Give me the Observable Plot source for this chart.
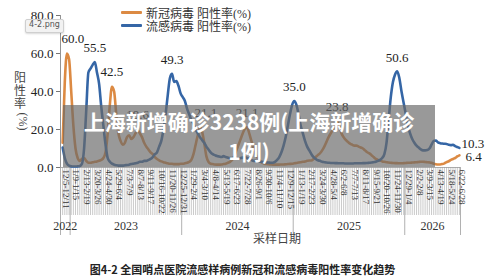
<!DOCTYPE html>
<html>
<head>
<meta charset="utf-8">
<script src="https://cdn.jsdelivr.net/npm/d3@7"></script>
<script src="https://cdn.jsdelivr.net/npm/@observablehq/plot@0.6"></script>
<style>
  html, body { margin: 0; padding: 0; background: #fff; }
  #wrap { position: relative; width: 500px; height: 277px; overflow: hidden; background: #fff; }
  #chart { position: absolute; left: 0; top: 0; }
  .legend { position: absolute; left: 121px; font: 12px "Liberation Serif", "Noto Sans CJK SC", serif; color: #333; }
  .legend .row { height: 13px; display: flex; align-items: center; }
  .legend .sw { width: 21px; height: 3px; margin-right: 4px; border-radius: 1px; }
  #ytitle { position: absolute; left: 13px; top: 70px; width: 14px; font: 12px "Noto Sans CJK SC", serif; color: #444; text-align: center; line-height: 13px; }
  #ytitle .rot { display: inline-block; transform: rotate(90deg); font-family: "Liberation Serif", serif; margin-top: 6px; }
  #xtitle { position: absolute; left: 253px; top: 229px; font: 12px "Noto Sans CJK SC", serif; color: #444; }
  #caption { position: absolute; left: 0; width: 485px; top: 261px; text-align: center; font: bold 11px "Noto Sans CJK SC", serif; color: #222; }
  #tip { position: absolute; left: 25px; top: 19px; width: 37px; height: 12px; line-height: 12px; background: #f2f2f2; border: 1px solid #cfcfcf; border-radius: 2px; font: 8px "DejaVu Sans", sans-serif; color: #555; text-align: center; box-shadow: 0 1px 2px rgba(0,0,0,0.15); }
  #overlay { position: absolute; left: 63px; top: 105px; width: 372px; height: 62px; background: rgba(105,105,105,0.68); color: #fff; font: bold 21px "Noto Sans CJK SC", sans-serif; text-align: center; line-height: 30px; padding-top: 1px; box-sizing: border-box; }
</style>
</head>
<body>
<div id="wrap">
  <div id="chart"></div>
  <div class="legend" style="top:6px">
    <div class="row"><span class="sw" style="background:#dc8a43"></span>新冠病毒 阳性率(%)</div>
    <div class="row"><span class="sw" style="background:#3566a6"></span>流感病毒 阳性率(%)</div>
  </div>
  <div id="ytitle">阳<br>性<br>率<br><span class="rot">(%)</span></div>
  <div id="xtitle">采样日期</div>
  <div id="caption">图4-2 全国哨点医院流感样病例新冠和流感病毒阳性率变化趋势</div>
  <div id="tip">4-2.png</div>
  <div id="overlay">上海新增确诊3238例(上海新增确诊<br>1例)</div>
</div>
<script>
// Weekly positivity rates (%)
const covid = [
  13, 45, 60, 57, 40, 22, 10, 5, 3.5, 4.5,
  5, 3.5, 2.5, 2.5, 2.8, 3, 3.2, 3.5, 4, 5,
  8, 18, 33, 42.5, 40, 28, 18, 14, 12, 13,
  16, 17, 15, 16, 18, 19.6, 18, 16, 13, 11,
  9.5, 8, 7, 5.5, 4.5, 3.8, 3.2, 2.8, 2.5, 2.2,
  2, 2, 1.8, 1.8, 1.8, 2, 2, 2.2, 2.5, 3,
  4, 7, 12, 17, 21.1, 19, 13, 6, 3, 2,
  1.8, 1.6, 1.5, 1.5, 1.6, 1.8, 2, 2.5, 3, 4,
  6, 9, 12, 15, 18, 20.5, 21.1, 18, 14, 10,
  7, 5, 3.5, 2.5, 2, 1.8, 1.7, 1.6, 1.5, 1.5,
  1.5, 1.5, 1.6, 1.6, 1.7, 1.8, 1.9, 2, 2.2, 2.4,
  2.6, 2.8, 3, 3.2, 3.5, 3.7, 3.7, 4.5, 5.5, 6.5,
  7.5, 9, 11, 13.5, 16, 18, 20, 22, 23.8, 22,
  18, 16, 14.5, 13.5, 12.6, 12, 11.5, 11.5, 11, 10.5,
  10, 9, 8, 7.4, 6.5, 5.5, 4.5, 4, 3.7, 3.2,
  3, 2.8, 2.6, 2.5, 2.4, 2.3, 2.3, 2.2, 2.2, 2.3,
  2.4, 2.5, 2.5, 2.6, 2.7, 2.8, 2.9, 3, 3, 2.9,
  2.8, 2.7, 2.5, 2, 1.7, 1.6, 1.6, 1.8, 2.2, 2.8,
  3.3, 4, 4.5, 5, 5.8, 6.4
];
const flu = [
  10.5, 5, 2, 1, 0.6, 0.5, 0.5, 0.6, 0.8, 2,
  10, 30, 50, 52, 54, 55.5, 50, 44, 32, 22,
  12, 5, 3, 2, 1.5, 1.2, 1, 1, 1, 1.2,
  1.3, 1.5, 1.8, 2, 2.2, 2.5, 3, 3, 3.5, 3.5,
  4, 4.5, 5.5, 7, 8, 11, 14, 20, 28, 38,
  47, 49.3, 45, 45.5, 43, 39, 37, 35, 31, 28,
  25, 23, 20, 18, 16, 14.5, 13, 11, 9.5, 8,
  7, 6.5, 6, 5.8, 5.5, 6, 5.5, 5.2, 5, 5,
  5.2, 5, 4.8, 5, 5.2, 5.5, 5, 4.5, 4, 3.5,
  3.5, 3.2, 3, 3, 2.8, 2.7, 2.6, 2.5, 2.5, 3,
  4, 5.5, 8, 11.5, 16, 22, 28, 33, 35, 33,
  28, 22, 18, 14, 11, 9, 7, 5.5, 4.5, 3.8,
  3.5, 3, 2.8, 2.6, 2.5, 2.4, 2.4, 2.3, 2.3, 2.2,
  2.2, 2.2, 2.1, 2.1, 2.1, 2.1, 2.2, 2.2, 2.2, 2.2,
  2.3, 2.3, 2.4, 2.5, 2.6, 2.8, 3, 3.5, 4, 5,
  7, 13, 25, 37, 45, 49, 50.6, 47, 40, 34,
  28, 22, 18, 15, 13, 11.5, 10.5, 9.5, 9, 9,
  9.2, 10, 12, 14, 14.2, 13.2, 12.8, 12.6, 12.5, 12.4,
  12, 11.8, 12, 11.2, 10.8, 10.3
];
// Tick labels, one every 5 weeks
const weekLabels = ["12/5-12/11","1/9-1/15","2/13-2/19","3/20-3/26","4/24-4/30","5/29-6/4","7/3-7/9","8/7-8/13","9/11-9/17","10/16-10/22","11/20-11/26","12/25-12/31","1/29-2/4","3/4-3/10","4/8-4/14","5/13-5/19","6/17-6/23","7/22-7/28","8/26-9/1","9/30-10/6","11/4-11/10","12/9-12/15","1/13-1/19","2/17-2/23","3/24-3/30","4/28-5/4","6/2-6/8","7/7-7/13","8/11-8/17","9/15-9/21","10/20-10/26","11/24-11/30","12/29-1/4","2/2-2/8","3/9-3/15","4/13-4/19","5/18-5/24","6/22-6/28"];
const years = ["2022", "2023", "2024", "2025", "2026"];
const yearBounds = [-1, 3.5, 55.5, 107.5, 159.5, 185.5];
const yTicks = [0, 20, 40, 60, 80];
const covidPeaks = [23, 35, 86, 128];
const covidPeaksShifted = [2, 64];
const fluPeaks = [15, 51, 108, 156];

const ORANGE = "#dc8a43", BLUE = "#3566a6";
const weeks = d3.range(covid.length);
const rows = weeks.map(i => ({w: i, covid: covid[i], flu: flu[i]}));
const last = weeks.length - 1;

const lbl = (arr, key) => arr.map(w => ({w, v: (key === "covid" ? covid : flu)[w]}));
const fmt = d => d.v.toFixed(1);

const chart = Plot.plot({
  width: 500,
  height: 245,
  marginLeft: 60,
  marginRight: 40,
  marginTop: 15,
  marginBottom: 78,
  x: {domain: [-1, 185.5], axis: null},
  y: {domain: [0, 80], axis: null},
  style: {fontFamily: "Liberation Serif, serif", background: "transparent", color: "#222"},
  marks: [
    Plot.axisX(weeks, {anchor: "bottom", label: null, tickSize: 48, tickFormat: () => "", stroke: "#bdbdbd", strokeWidth: 0.8}),
    Plot.axisX(yearBounds, {anchor: "bottom", label: null, tickSize: 68, tickFormat: () => "", stroke: "#a8a8a8", strokeWidth: 0.9}),
    Plot.text(weekLabels, {x: (d, i) => i * 5, frameAnchor: "bottom", rotate: 90, textAnchor: "start", dy: 2, fontSize: 9, fill: "#333"}),
    Plot.text(years, {x: (d, i) => (yearBounds[i] + yearBounds[i + 1]) / 2, frameAnchor: "bottom", dy: 62, fontSize: 12, fill: "#333"}),
    Plot.ruleY([0], {stroke: "#999", strokeWidth: 0.8}),
    Plot.ruleX([-1], {stroke: "#777", strokeWidth: 0.8}),
    Plot.axisY({ticks: yTicks, tickFormat: d => d.toFixed(1), label: null, tickSize: 4, tickPadding: 3, fontSize: 13, stroke: "#777"}),
    Plot.line(rows, {x: "w", y: "covid", stroke: ORANGE, strokeWidth: 2.6, curve: "monotone-x"}),
    Plot.line(rows, {x: "w", y: "flu", stroke: BLUE, strokeWidth: 2.6, curve: "monotone-x"}),
    Plot.text(lbl(covidPeaks, "covid"), {x: "w", y: "v", text: fmt, dy: -15, fontSize: 13, fill: "#222"}),
    Plot.text(lbl(covidPeaksShifted, "covid"), {x: "w", y: "v", text: fmt, dx: 6, dy: -15, fontSize: 13, fill: "#222"}),
    Plot.text(lbl(fluPeaks, "flu"), {x: "w", y: "v", text: fmt, dy: -14, fontSize: 13, fill: "#222"}),
    Plot.text(lbl([last], "flu"), {x: "w", y: "v", text: fmt, dx: 2, dy: -4, textAnchor: "start", fontSize: 13, fill: "#222"}),
    Plot.text(lbl([last], "covid"), {x: "w", y: "v", text: fmt, dx: 6, dy: 1, textAnchor: "start", fontSize: 13, fill: "#222"})
  ]
});
document.getElementById("chart").appendChild(chart);
</script>
</body>
</html>
